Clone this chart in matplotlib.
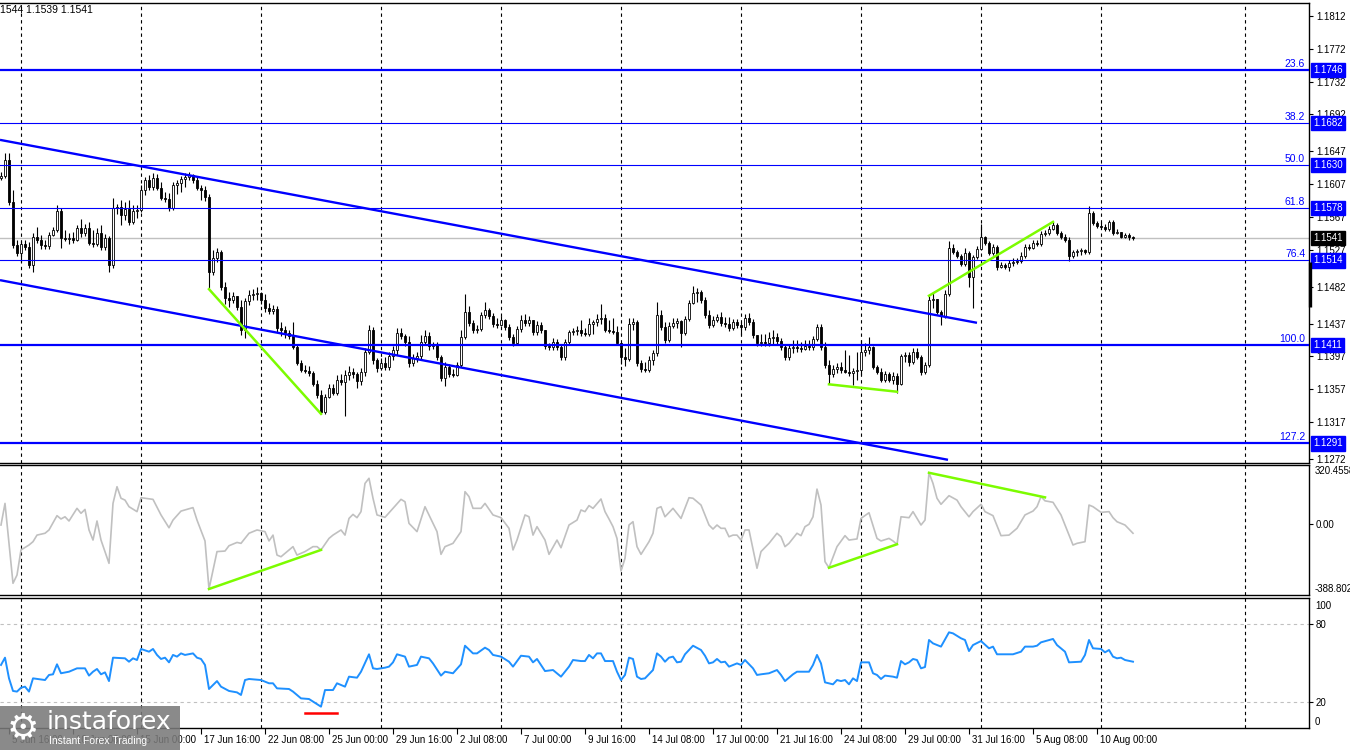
import numpy as np
import matplotlib
matplotlib.use("Agg")
import matplotlib.pyplot as plt
from matplotlib.patches import Rectangle
from matplotlib import transforms

plt.rcParams["font.family"] = ["Liberation Sans", "DejaVu Sans"]

# ---- price data (H4 candles), open of each bar = previous close ----
OPEN_FIRST = 1.1615
CLOSE = [
    1.1617, 1.1637, 1.1585, 1.1533, 1.1523, 1.1534, 1.1530, 1.1508, 1.1543, 1.1539,
    1.1533, 1.1532, 1.1545, 1.1551, 1.1574, 1.1541, 1.1540, 1.1541, 1.1539, 1.1554,
    1.1547, 1.1554, 1.1535, 1.1534, 1.1547, 1.1530, 1.1541, 1.1508, 1.1578, 1.1579,
    1.1569, 1.1577, 1.1561, 1.1574, 1.1576, 1.1600, 1.1612, 1.1604, 1.1615, 1.1602,
    1.1590, 1.1589, 1.1578, 1.1606, 1.1608, 1.1613, 1.1616, 1.1618, 1.1612, 1.1602,
    1.1600, 1.1591, 1.1500, 1.1517, 1.1524, 1.1482, 1.1468, 1.1466, 1.1471, 1.1457,
    1.1429, 1.1464, 1.1472, 1.1473, 1.1474, 1.1466, 1.1456, 1.1452, 1.1455, 1.1432,
    1.1429, 1.1425, 1.1422, 1.1408, 1.1389, 1.1380, 1.1379, 1.1377, 1.1364, 1.1350,
    1.1329, 1.1347, 1.1358, 1.1353, 1.1368, 1.1366, 1.1374, 1.1378, 1.1375, 1.1367,
    1.1378, 1.1402, 1.1429, 1.1393, 1.1383, 1.1389, 1.1384, 1.1397, 1.1405, 1.1425,
    1.1422, 1.1414, 1.1389, 1.1395, 1.1397, 1.1414, 1.1422, 1.1410, 1.1411, 1.1396,
    1.1371, 1.1384, 1.1375, 1.1374, 1.1386, 1.1421, 1.1451, 1.1438, 1.1429, 1.1430,
    1.1447, 1.1454, 1.1446, 1.1436, 1.1435, 1.1441, 1.1433, 1.1421, 1.1413, 1.1430,
    1.1441, 1.1438, 1.1441, 1.1427, 1.1435, 1.1429, 1.1410, 1.1408, 1.1414, 1.1408,
    1.1396, 1.1414, 1.1427, 1.1428, 1.1429, 1.1425, 1.1424, 1.1436, 1.1439, 1.1443,
    1.1444, 1.1429, 1.1428, 1.1427, 1.1413, 1.1396, 1.1394, 1.1436, 1.1439, 1.1389,
    1.1382, 1.1380, 1.1393, 1.1401, 1.1447, 1.1433, 1.1417, 1.1434, 1.1438, 1.1440,
    1.1425, 1.1443, 1.1462, 1.1474, 1.1475, 1.1466, 1.1447, 1.1435, 1.1441, 1.1445,
    1.1438, 1.1436, 1.1432, 1.1439, 1.1435, 1.1433, 1.1444, 1.1439, 1.1423, 1.1413,
    1.1414, 1.1413, 1.1419, 1.1421, 1.1416, 1.1408, 1.1396, 1.1407, 1.1408, 1.1407,
    1.1406, 1.1410, 1.1408, 1.1418, 1.1433, 1.1408, 1.1386, 1.1375, 1.1382, 1.1384,
    1.1380, 1.1378, 1.1377, 1.1379, 1.1380, 1.1402, 1.1405, 1.1408, 1.1384, 1.1378,
    1.1368, 1.1375, 1.1368, 1.1373, 1.1364, 1.1397, 1.1399, 1.1390, 1.1402, 1.1396,
    1.1378, 1.1386, 1.1466, 1.1467, 1.1451, 1.1446, 1.1473, 1.1529, 1.1524, 1.1519,
    1.1510, 1.1523, 1.1494, 1.1518, 1.1528, 1.1543, 1.1535, 1.1523, 1.1530, 1.1506,
    1.1508, 1.1506, 1.1511, 1.1512, 1.1513, 1.1519, 1.1530, 1.1529, 1.1535, 1.1534,
    1.1546, 1.1547, 1.1552, 1.1557, 1.1547, 1.1543, 1.1539, 1.1519, 1.1524, 1.1525,
    1.1527, 1.1524, 1.1572, 1.1560, 1.1556, 1.1555, 1.1552, 1.1561, 1.1547, 1.1549,
    1.1543, 1.1545, 1.1543, 1.1541,
]
HIGH = [
    1.1622, 1.1645, 1.1645, 1.1600, 1.1539, 1.1538, 1.1539, 1.1536, 1.1547, 1.1555,
    1.1545, 1.1539, 1.1549, 1.1555, 1.1582, 1.1578, 1.1551, 1.1547, 1.1549, 1.1557,
    1.1565, 1.1558, 1.1561, 1.1551, 1.1554, 1.1557, 1.1546, 1.1544, 1.1590, 1.1583,
    1.1588, 1.1585, 1.1588, 1.1582, 1.1582, 1.1606, 1.1616, 1.1618, 1.1621, 1.1619,
    1.1610, 1.1597, 1.1596, 1.1610, 1.1612, 1.1617, 1.1621, 1.1622, 1.1619, 1.1617,
    1.1606, 1.1605, 1.1595, 1.1527, 1.1529, 1.1527, 1.1488, 1.1475, 1.1475, 1.1469,
    1.1466, 1.1468, 1.1478, 1.1479, 1.1482, 1.1475, 1.1473, 1.1462, 1.1460, 1.1458,
    1.1439, 1.1434, 1.1429, 1.1439, 1.1411, 1.1393, 1.1386, 1.1385, 1.1379, 1.1368,
    1.1356, 1.1351, 1.1363, 1.1364, 1.1374, 1.1375, 1.1380, 1.1385, 1.1383, 1.1378,
    1.1383, 1.1407, 1.1435, 1.1433, 1.1395, 1.1395, 1.1396, 1.1402, 1.1410, 1.1432,
    1.1432, 1.1424, 1.1422, 1.1400, 1.1402, 1.1423, 1.1429, 1.1427, 1.1414, 1.1414,
    1.1399, 1.1390, 1.1388, 1.1382, 1.1390, 1.1429, 1.1473, 1.1458, 1.1441, 1.1435,
    1.1451, 1.1463, 1.1456, 1.1450, 1.1444, 1.1446, 1.1443, 1.1436, 1.1424, 1.1434,
    1.1447, 1.1449, 1.1446, 1.1441, 1.1440, 1.1439, 1.1429, 1.1413, 1.1419, 1.1418,
    1.1412, 1.1418, 1.1429, 1.1432, 1.1434, 1.1441, 1.1432, 1.1444, 1.1441, 1.1449,
    1.1461, 1.1449, 1.1441, 1.1444, 1.1434, 1.1413, 1.1407, 1.1444, 1.1444, 1.1441,
    1.1393, 1.1390, 1.1397, 1.1405, 1.1463, 1.1454, 1.1439, 1.1439, 1.1444, 1.1444,
    1.1441, 1.1446, 1.1466, 1.1483, 1.1480, 1.1478, 1.1469, 1.1454, 1.1446, 1.1449,
    1.1451, 1.1445, 1.1445, 1.1443, 1.1443, 1.1439, 1.1449, 1.1450, 1.1443, 1.1422,
    1.1424, 1.1424, 1.1427, 1.1429, 1.1425, 1.1419, 1.1412, 1.1411, 1.1417, 1.1417,
    1.1414, 1.1417, 1.1417, 1.1422, 1.1436, 1.1436, 1.1414, 1.1393, 1.1386, 1.1389,
    1.1390, 1.1405, 1.1399, 1.1383, 1.1402, 1.1417, 1.1413, 1.1421, 1.1410, 1.1386,
    1.1383, 1.1379, 1.1378, 1.1378, 1.1377, 1.1400, 1.1402, 1.1402, 1.1407, 1.1407,
    1.1399, 1.1390, 1.1471, 1.1474, 1.1462, 1.1454, 1.1478, 1.1538, 1.1534, 1.1527,
    1.1522, 1.1529, 1.1525, 1.1521, 1.1532, 1.1558, 1.1544, 1.1538, 1.1534, 1.1533,
    1.1512, 1.1511, 1.1515, 1.1517, 1.1517, 1.1524, 1.1534, 1.1534, 1.1539, 1.1539,
    1.1550, 1.1551, 1.1556, 1.1561, 1.1560, 1.1550, 1.1546, 1.1543, 1.1527, 1.1528,
    1.1529, 1.1528, 1.1580, 1.1574, 1.1562, 1.1561, 1.1558, 1.1563, 1.1563, 1.1552,
    1.1549, 1.1547, 1.1547, 1.1544,
]
LOW = [
    1.1612, 1.1615, 1.1582, 1.1529, 1.1519, 1.1512, 1.1527, 1.1505, 1.1500, 1.1535,
    1.1528, 1.1528, 1.1528, 1.1544, 1.1549, 1.1529, 1.1538, 1.1534, 1.1535, 1.1538,
    1.1543, 1.1544, 1.1533, 1.1530, 1.1532, 1.1527, 1.1527, 1.1500, 1.1505, 1.1571,
    1.1557, 1.1563, 1.1557, 1.1558, 1.1566, 1.1573, 1.1594, 1.1600, 1.1600, 1.1600,
    1.1588, 1.1585, 1.1574, 1.1576, 1.1595, 1.1597, 1.1604, 1.1612, 1.1608, 1.1600,
    1.1588, 1.1586, 1.1480, 1.1496, 1.1512, 1.1478, 1.1461, 1.1457, 1.1462, 1.1454,
    1.1423, 1.1419, 1.1460, 1.1466, 1.1466, 1.1461, 1.1451, 1.1449, 1.1449, 1.1427,
    1.1422, 1.1419, 1.1418, 1.1406, 1.1386, 1.1378, 1.1377, 1.1373, 1.1361, 1.1346,
    1.1327, 1.1327, 1.1346, 1.1350, 1.1350, 1.1362, 1.1325, 1.1368, 1.1371, 1.1358,
    1.1362, 1.1373, 1.1400, 1.1388, 1.1378, 1.1380, 1.1380, 1.1380, 1.1393, 1.1399,
    1.1418, 1.1410, 1.1384, 1.1385, 1.1390, 1.1393, 1.1411, 1.1405, 1.1406, 1.1393,
    1.1367, 1.1361, 1.1372, 1.1372, 1.1373, 1.1384, 1.1418, 1.1434, 1.1425, 1.1425,
    1.1428, 1.1444, 1.1443, 1.1433, 1.1432, 1.1434, 1.1429, 1.1417, 1.1410, 1.1411,
    1.1427, 1.1434, 1.1434, 1.1423, 1.1423, 1.1425, 1.1406, 1.1405, 1.1405, 1.1405,
    1.1393, 1.1393, 1.1412, 1.1423, 1.1423, 1.1422, 1.1422, 1.1422, 1.1424, 1.1434,
    1.1436, 1.1427, 1.1425, 1.1424, 1.1411, 1.1388, 1.1385, 1.1391, 1.1429, 1.1385,
    1.1378, 1.1378, 1.1378, 1.1386, 1.1397, 1.1429, 1.1413, 1.1414, 1.1432, 1.1432,
    1.1408, 1.1423, 1.1440, 1.1461, 1.1463, 1.1462, 1.1444, 1.1432, 1.1433, 1.1439,
    1.1434, 1.1433, 1.1428, 1.1429, 1.1432, 1.1423, 1.1429, 1.1435, 1.1419, 1.1410,
    1.1410, 1.1410, 1.1410, 1.1412, 1.1412, 1.1405, 1.1393, 1.1393, 1.1401, 1.1403,
    1.1403, 1.1405, 1.1405, 1.1405, 1.1416, 1.1405, 1.1383, 1.1363, 1.1372, 1.1377,
    1.1377, 1.1377, 1.1373, 1.1362, 1.1368, 1.1374, 1.1397, 1.1400, 1.1382, 1.1375,
    1.1366, 1.1366, 1.1366, 1.1363, 1.1353, 1.1362, 1.1390, 1.1385, 1.1388, 1.1394,
    1.1374, 1.1375, 1.1384, 1.1456, 1.1449, 1.1435, 1.1444, 1.1471, 1.1522, 1.1517,
    1.1507, 1.1507, 1.1482, 1.1456, 1.1516, 1.1527, 1.1533, 1.1521, 1.1521, 1.1502,
    1.1505, 1.1504, 1.1501, 1.1507, 1.1510, 1.1511, 1.1517, 1.1527, 1.1528, 1.1532,
    1.1532, 1.1544, 1.1545, 1.1551, 1.1545, 1.1540, 1.1536, 1.1513, 1.1517, 1.1519,
    1.1521, 1.1522, 1.1522, 1.1557, 1.1554, 1.1552, 1.1550, 1.1550, 1.1545, 1.1546,
    1.1541, 1.1541, 1.1539, 1.1539,
]

# ---- CCI (grey) read at its turning points: bar index / value ----
CCI_IDX = [0, 1, 3, 4, 5, 7, 8, 9, 11, 12, 14, 15, 16, 17, 19, 20, 21, 22, 23, 24,
           25, 27, 28, 29, 30, 31, 32, 34, 35, 38, 40, 42, 43, 45, 48, 49, 51, 52, 54, 56,
           57, 59, 60, 62, 64, 66, 67, 68, 69, 70, 73, 74, 76, 78, 79, 80, 82, 83, 85, 86,
           87, 88, 89, 90, 91, 92, 93, 94, 96, 98, 100, 101, 102, 104, 106, 107, 109, 110, 111, 113,
           115, 116, 117, 118, 120, 121, 123, 125, 127, 128, 129, 131, 132, 133, 134, 136, 137, 139, 140, 142,
           144, 145, 146, 147, 148, 150, 151, 152, 153, 154, 155, 156, 157, 158, 159, 160, 162, 163, 164, 165,
           166, 168, 170, 172, 173, 175, 177, 178, 179, 180, 181, 182, 183, 184, 185, 186, 187, 189, 190, 192,
           194, 195, 196, 197, 199, 200, 201, 202, 203, 204, 205, 206, 207, 209, 211, 212, 214, 215, 217, 219,
           220, 222, 223, 224, 225, 227, 228, 230, 231, 232, 233, 234, 235, 237, 239, 240, 242, 243, 245, 246,
           248, 250, 252, 254, 256, 258, 259, 260, 261, 263, 265, 267, 268, 269, 271, 272, 273, 275, 277, 278,
           279, 281, 283]
CCI_VAL = [-7, 111, -325, -280, -143, -116, -98, -62, -52, -34, 44, 26, 38, 15, 84, 57, 78, -34, -89, 15,
           -89, -216, 111, 202, 139, 129, 93, 66, 142, 133, 48, -22, 20, 69, 88, 20, -94, -356, -152, -149,
           -120, -102, -107, -52, -34, -43, -94, -62, -171, -180, -125, -171, -152, -125, -125, -143, -80, -62, -34, -62,
           29, 51, 33, 66, 220, 248, 139, 48, 35, 84, 133, 120, 2, -43, 93, 48, -43, -167, -125, -107,
           -43, 175, 148, 84, 84, 111, 48, 33, -25, -143, -89, 48, 38, -62, -16, -89, -167, -89, -131, -7,
           20, 75, 66, 99, 84, 135, 66, 26, -16, -80, -258, -189, -7, 11, -125, -167, -98, -52, 84, 93,
           38, 84, 29, 142, 139, 102, -7, -29, -7, -25, -25, -71, -62, -62, -89, -34, -34, -243, -152, -107,
           -52, -71, -125, -107, -52, -65, -16, -3, 38, 189, 102, -207, -240, -125, -65, -89, -83, 29, 60, -80,
           -94, -80, -94, -112, 38, 33, 66, -7, 20, 278, 220, 139, 106, 153, 129, 93, 38, 66, 106, 66,
           44, -65, -62, -25, 48, 69, 93, 148, 125, 117, 48, -62, -116, -107, -98, 102, 93, 62, 66, 33,
           11, -7, -52]
CCI_MAX, CCI_MIN = 320.4558, -388.8028

# ---- RSI (blue) read at its turning points: bar index / value ----
RSI_IDX = [0, 1, 2, 3, 4, 5, 6, 7, 8, 11, 12, 13, 14, 15, 17, 19, 21, 22, 23, 24,
           25, 26, 27, 28, 31, 32, 33, 34, 35, 37, 38, 39, 40, 41, 42, 43, 44, 45, 46, 48,
           49, 50, 51, 52, 54, 55, 57, 59, 60, 61, 62, 65, 67, 68, 69, 72, 73, 75, 77, 78,
           80, 81, 83, 84, 86, 87, 89, 90, 92, 93, 94, 96, 97, 98, 99, 101, 102, 104, 105, 107,
           108, 110, 111, 113, 115, 116, 118, 119, 121, 122, 123, 125, 127, 128, 130, 132, 133, 134, 136, 138,
           140, 142, 143, 145, 146, 147, 148, 149, 150, 151, 153, 154, 155, 156, 157, 158, 159, 160, 161, 163,
           164, 165, 166, 167, 168, 169, 170, 171, 173, 175, 176, 177, 178, 179, 180, 181, 182, 184, 185, 186,
           188, 189, 190, 192, 194, 195, 196, 198, 199, 202, 203, 204, 205, 206, 208, 209, 210, 211, 212, 213,
           214, 215, 217, 218, 219, 220, 221, 223, 224, 225, 226, 227, 228, 229, 230, 231, 232, 233, 235, 237,
           238, 240, 241, 242, 243, 245, 247, 248, 249, 253, 255, 256, 258, 259, 260, 263, 264, 266, 267, 270,
           271, 272, 273, 275, 276, 277, 278, 279, 280, 281, 283]
RSI_VAL = [48.5, 54.1, 38.2, 28.5, 28.0, 31.0, 31.8, 28.0, 38.2, 36.9, 40.8, 41.3, 49.0, 42.1, 43.3, 45.9, 45.9, 40.3, 43.3, 45.4,
           41.3, 42.8, 36.1, 54.1, 53.6, 51.0, 53.6, 52.3, 60.8, 58.7, 60.8, 56.2, 53.1, 54.1, 50.5, 56.2, 54.9, 57.4, 56.2, 57.4,
           54.1, 53.1, 48.5, 30.0, 36.1, 31.8, 28.5, 27.4, 25.4, 36.9, 37.7, 36.9, 34.4, 34.4, 30.5, 30.0, 28.0, 22.8, 22.3, 20.3,
           16.4, 29.2, 29.2, 34.4, 31.8, 39.5, 38.7, 43.3, 56.7, 45.9, 45.4, 46.4, 47.2, 50.5, 56.7, 54.9, 47.2, 48.5, 54.9, 53.6,
           49.7, 40.3, 43.3, 42.1, 49.0, 63.3, 57.4, 57.4, 61.8, 60.0, 56.2, 54.9, 51.0, 47.2, 55.6, 54.9, 50.5, 53.1, 43.8, 44.6,
           39.5, 47.2, 52.3, 51.5, 51.5, 56.2, 53.6, 57.4, 57.4, 51.5, 51.5, 43.3, 36.9, 40.8, 54.1, 53.1, 39.5, 37.7, 38.2, 44.6,
           57.4, 54.9, 51.0, 54.1, 54.9, 50.5, 51.0, 56.7, 63.3, 60.0, 55.6, 49.7, 50.5, 53.1, 50.5, 51.0, 47.2, 49.7, 48.5, 52.3,
           45.9, 40.8, 41.3, 42.1, 44.6, 40.8, 36.1, 41.3, 43.3, 43.3, 48.5, 56.2, 49.7, 35.1, 33.6, 36.9, 36.1, 36.9, 33.6, 38.2,
           36.1, 50.5, 50.5, 42.1, 40.8, 37.7, 40.3, 39.5, 38.7, 51.5, 49.0, 50.5, 53.1, 52.3, 45.9, 46.9, 67.7, 65.1, 62.6, 73.6,
           72.8, 69.0, 67.7, 59.2, 63.8, 66.9, 61.3, 62.6, 56.7, 56.7, 58.7, 62.6, 62.6, 63.3, 65.9, 68.5, 63.8, 58.7, 50.5, 51.0,
           56.2, 67.7, 61.3, 60.8, 58.2, 60.0, 54.9, 53.6, 54.1, 52.3, 51.0]

# ---- chart objects ----
FIB_LEVELS = ["23.6", "38.2", "50.0", "61.8", "76.4", "100.0", "127.2"]
FIB_PRICES = [1.1746, 1.1682, 1.1630, 1.1578, 1.1514, 1.1411, 1.1291]
FIB_THICK = ["23.6", "100.0", "127.2"]
LAST_PRICE = 1.1541
PRICE_TICKS = [1.1812, 1.1772, 1.1732, 1.1692, 1.1647, 1.1607, 1.1567, 1.1527,
               1.1482, 1.1437, 1.1397, 1.1357, 1.1317, 1.1272]
CHANNEL_UP = ([-0.25, 244], [1.1661, 1.1438])
CHANNEL_DN = ([-0.25, 236.75], [1.1490, 1.1271])
GREEN_MAIN = [([52, 80], [1.1479, 1.1327]),
              ([207, 224], [1.1363, 1.1354]),
              ([232, 263], [1.1471, 1.1561])]
GREEN_CCI = [([52, 80], [-356, -143]),
             ([207, 224], [-240, -112]),
             ([232, 261], [278, 144])]
RED_RSI = ([76, 84], [11.5, 11.5])
GRID_IDX = [5, 35, 65, 95, 125, 155, 185, 215, 245, 275, 311]
X_LABEL_IDX = [2, 18, 34, 50, 66, 82, 98, 114, 130, 146, 162, 178, 194, 210, 226, 242, 258, 274]
X_LABELS = ["5 Jun 16:00", "10 Jun 08:00", "15 Jun 00:00", "17 Jun 16:00", "22 Jun 08:00",
            "25 Jun 00:00", "29 Jun 16:00", "2 Jul 08:00", "7 Jul 00:00", "9 Jul 16:00",
            "14 Jul 08:00", "17 Jul 00:00", "21 Jul 16:00", "24 Jul 08:00", "29 Jul 00:00",
            "31 Jul 16:00", "5 Aug 08:00", "10 Aug 00:00"]

W, H = 1350, 750
BLUE = "#0000FF"
GREEN = "#7CFC00"
SILVER = "#C0C0C0"
XMIN, XMAX = -0.25, 327

fig = plt.figure(figsize=(W / 100, H / 100), dpi=100)
fig.patch.set_facecolor("white")


def add_panel(top, bottom):
    ax = fig.add_axes([0, 1 - bottom / H, 1309 / W, (bottom - top) / H])
    ax.set_xlim(XMIN, XMAX)
    ax.spines["left"].set_visible(False)
    for s in ("top", "right", "bottom"):
        ax.spines[s].set_linewidth(1.0)
        ax.spines[s].set_color("black")
    ax.set_xticks([])
    ax.yaxis.tick_right()
    ax.tick_params(axis="y", length=3, width=0.8, pad=2, labelsize=7)
    for gx in GRID_IDX:
        ax.axvline(gx, color="black", lw=0.8, ls=(0, (3, 3)), zorder=1)
    return ax


ax = add_panel(2.5, 463)
ax_cci = add_panel(465, 595)
ax_rsi = add_panel(598, 728)
ytr = transforms.blended_transform_factory(ax.transAxes, ax.transData)

# ---- main price panel ----
ax.set_ylim(1.18315 - 0.0001219 * 463, 1.18315 - 0.0001219 * 2.5)
ax.set_yticks(PRICE_TICKS)
ax.set_yticklabels([f"{p:.4f}" for p in PRICE_TICKS])

close = np.array(CLOSE)
opn = np.r_[OPEN_FIRST, close[:-1]]
high = np.maximum(np.array(HIGH), np.maximum(opn, close))
low = np.minimum(np.array(LOW), np.minimum(opn, close))
idx = np.arange(len(close))
bull = close >= opn

ax.vlines(idx, low, high, color="black", lw=0.8, zorder=2)
body_bot = np.minimum(opn, close)
body_h = np.maximum(np.abs(close - opn), 0.00004)
ax.bar(idx, body_h, bottom=body_bot, width=0.6,
       color=np.where(bull, "white", "black"), edgecolor="black",
       linewidth=0.6, zorder=3)

ax.axhline(LAST_PRICE, color=SILVER, lw=1, zorder=1.5)
for lvl, p in zip(FIB_LEVELS, FIB_PRICES):
    lw = 1.6 if lvl in FIB_THICK else 0.8
    ax.axhline(p, color=BLUE, lw=lw, zorder=4)
    ax.text(0.997, p + 0.00012, lvl, transform=ytr, ha="right", va="bottom",
            color=BLUE, fontsize=7.5, zorder=5)
    ax.text(1.0035, p, f"{p:.4f}", transform=ytr, ha="left", va="center",
            color="white", fontsize=7, zorder=6, clip_on=False,
            bbox=dict(boxstyle="square,pad=0.22", fc=BLUE, ec=BLUE))
ax.text(1.0035, LAST_PRICE, f"{LAST_PRICE:.4f}", transform=ytr, ha="left",
        va="center", color="white", fontsize=7, zorder=6, clip_on=False,
        bbox=dict(boxstyle="square,pad=0.22", fc="black", ec="black"))

ax.plot(*CHANNEL_UP, color=BLUE, lw=1.7, zorder=4, solid_capstyle="butt")
ax.plot(*CHANNEL_DN, color=BLUE, lw=1.7, zorder=4, solid_capstyle="butt")
for gx, gy in GREEN_MAIN:
    ax.plot(gx, gy, color=GREEN, lw=1.8, zorder=4)

# thick marker at the right edge of the price scale
ax.plot([XMAX + 0.35, XMAX + 0.35], [1.1457, 1.1512], color="black", lw=2.4,
        clip_on=False, solid_capstyle="butt", zorder=6)

# ---- CCI panel ----
ax_cci.set_ylim(CCI_MIN, CCI_MAX)
ax_cci.set_yticks([0])
ax_cci.set_yticklabels(["0.00"])
ax_cci.plot(CCI_IDX, CCI_VAL, color=SILVER, lw=1.2, zorder=3)
for gx, gy in GREEN_CCI:
    ax_cci.plot(gx, gy, color=GREEN, lw=1.8, zorder=4)
ctr = transforms.blended_transform_factory(ax_cci.transAxes, ax_cci.transData)
ax_cci.text(1.0045, CCI_MAX - 8, f"{CCI_MAX:.4f}", transform=ctr, ha="left",
            va="top", fontsize=7, clip_on=False)
ax_cci.text(1.0045, CCI_MIN + 8, f"{CCI_MIN:.4f}", transform=ctr, ha="left",
            va="bottom", fontsize=7, clip_on=False)

# ---- RSI panel ----
ax_rsi.set_ylim(0, 100)
ax_rsi.set_yticks([80, 20])
ax_rsi.set_yticklabels(["80", "20"])
for lv in (80, 20):
    ax_rsi.axhline(lv, color=SILVER, lw=0.8, ls=(0, (3, 3)), zorder=1)
ax_rsi.plot(RSI_IDX, RSI_VAL, color="#1E90FF", lw=1.4, zorder=3)
ax_rsi.plot(*RED_RSI, color="red", lw=1.8, zorder=4)
rtr = transforms.blended_transform_factory(ax_rsi.transAxes, ax_rsi.transData)
ax_rsi.text(1.0045, 98, "100", transform=rtr, ha="left", va="top",
            fontsize=7, clip_on=False)
ax_rsi.text(1.0045, 0.5, "0", transform=rtr, ha="left", va="bottom",
            fontsize=7, clip_on=False)

ax_rsi.set_xticks(X_LABEL_IDX)
ax_rsi.set_xticklabels([])
ax_rsi.tick_params(axis="x", length=4, width=0.8, direction="out")
xtr = transforms.blended_transform_factory(ax_rsi.transData, ax_rsi.transAxes)
shift = transforms.ScaledTranslation(3 / 100, 0, fig.dpi_scale_trans)
for xi, lab in zip(X_LABEL_IDX, X_LABELS):
    ax_rsi.text(xi, -0.095, lab, transform=xtr + shift, ha="left", va="center",
                fontsize=7, clip_on=False)

# ---- header and logo ----
fig.text(0, 1 - 10 / H, "1544 1.1539 1.1541", ha="left", va="center", fontsize=7.5)

fig.patches.append(Rectangle((0, 0), 180 / W, 44 / H, transform=fig.transFigure,
                             facecolor="#7a7a7a", alpha=0.88, zorder=10))
fig.text(23 / W, 1 - 728 / H, "\u2699", color="white", fontsize=26,
         family="DejaVu Sans", ha="center", va="center", zorder=11)
fig.text(47 / W, 1 - 722 / H, "instaforex", color="white", fontsize=18,
         family="DejaVu Sans", ha="left", va="center", zorder=11)
fig.text(49 / W, 1 - 741 / H, "Instant Forex Trading", color="white", fontsize=7.5,
         ha="left", va="center", zorder=11)

fig.savefig("out.png", dpi=100)
